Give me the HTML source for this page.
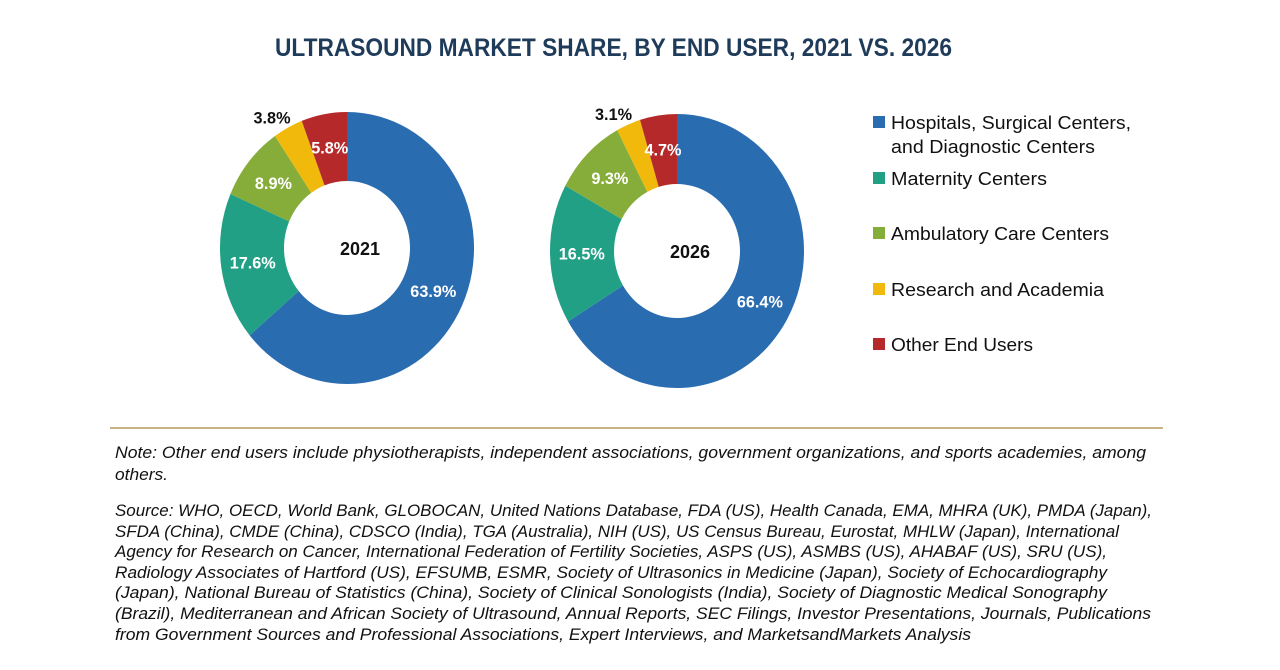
<!DOCTYPE html>
<html><head><meta charset="utf-8"><style>
body{margin:0;background:#fff;width:1280px;height:670px;overflow:hidden;font-family:"Liberation Sans",sans-serif;}
svg{position:absolute;left:0;top:0}
</style></head><body>
<svg id="chart" width="1280" height="670">
<text x="275" y="56" textLength="677" lengthAdjust="spacingAndGlyphs" font-size="25" font-weight="bold" fill="#1f3b5a">ULTRASOUND MARKET SHARE, BY END USER, 2021 VS. 2026</text>
<g font-style="italic" font-size="16.5" fill="#111">
<text x="115" y="458" textLength="1031" lengthAdjust="spacingAndGlyphs">Note: Other end users include physiotherapists, independent associations, government organizations, and sports academies, among</text>
<text x="115" y="480" textLength="53" lengthAdjust="spacingAndGlyphs">others.</text>
</g>
<g font-style="italic" font-size="16.5" fill="#111">
<text x="115" y="516" textLength="1037" lengthAdjust="spacingAndGlyphs">Source: WHO, OECD, World Bank, GLOBOCAN, United Nations Database, FDA (US), Health Canada, EMA, MHRA (UK), PMDA (Japan),</text>
<text x="115" y="537" textLength="1004" lengthAdjust="spacingAndGlyphs">SFDA (China), CMDE (China), CDSCO (India), TGA (Australia), NIH (US), US Census Bureau, Eurostat, MHLW (Japan), International</text>
<text x="115" y="557" textLength="992" lengthAdjust="spacingAndGlyphs">Agency for Research on Cancer, International Federation of Fertility Societies, ASPS (US), ASMBS (US), AHABAF (US), SRU (US),</text>
<text x="115" y="578" textLength="992" lengthAdjust="spacingAndGlyphs">Radiology Associates of Hartford (US), EFSUMB, ESMR, Society of Ultrasonics in Medicine (Japan), Society of Echocardiography</text>
<text x="115" y="598" textLength="992" lengthAdjust="spacingAndGlyphs">(Japan), National Bureau of Statistics (China), Society of Clinical Sonologists (India), Society of Diagnostic Medical Sonography</text>
<text x="115" y="619" textLength="1036" lengthAdjust="spacingAndGlyphs">(Brazil), Mediterranean and African Society of Ultrasound, Annual Reports, SEC Filings, Investor Presentations, Journals, Publications</text>
<text x="115" y="640" textLength="856" lengthAdjust="spacingAndGlyphs">from Government Sources and Professional Associations, Expert Interviews, and MarketsandMarkets Analysis</text>
</g>
</svg>
<script>
const categories=["Hospitals, Surgical Centers, and Diagnostic Centers","Maternity Centers","Ambulatory Care Centers","Research and Academia","Other End Users"];
const colors=["#2a6cb0","#22a085","#86ad3a","#f0b90c","#b5292a"];
const values2021=[63.9,17.6,8.9,3.8,5.8];
const values2026=[66.4,16.5,9.3,3.1,4.7];
const years=["2021","2026"];
const NS="http://www.w3.org/2000/svg";
const svg=document.getElementById('chart');
function el(t,a){const e=document.createElementNS(NS,t);for(const k in a)e.setAttribute(k,a[k]);svg.appendChild(e);return e;}
function pt(cx,cy,rx,ry,a){return [cx+rx*Math.sin(a),cy-ry*Math.cos(a)];}
function donut(vals,cx,cy,rx,ry,irx,iry,year){
  const tot=vals.reduce((s,v)=>s+v,0);let a0=0;
  vals.forEach((v,i)=>{
    const a1=a0+v/tot*2*Math.PI;const lg=(a1-a0)>Math.PI?1:0;
    const p1=pt(cx,cy,rx,ry,a0),p2=pt(cx,cy,rx,ry,a1),p3=pt(cx,cy,irx,iry,a1),p4=pt(cx,cy,irx,iry,a0);
    const p=el('path',{d:`M${p1}A${rx},${ry} 0 ${lg} 1 ${p2}L${p3}A${irx},${iry} 0 ${lg} 0 ${p4}Z`,fill:colors[i]});
    
    
    const m=(a0+a1)/2;const small=v/tot<0.045;
    const f=small?1.1:0.75;
    let lp=pt(cx,cy,rx*f,ry*f,m);
    if(small){lp=[lp[0]-10,lp[1]+2];}
    const t=el('text',{x:lp[0],y:lp[1]+6,'text-anchor':'middle','font-size':17,'font-weight':'bold',fill:small?'#111':'#fff',textLength:v>=10?46:37,lengthAdjust:'spacingAndGlyphs'});
    t.textContent=v.toFixed(1)+'%';
    
    
    a0=a1;
  });
  const c=el('text',{x:cx+13,y:cy+7,'text-anchor':'middle','font-size':18,'font-weight':'bold',fill:'#111',textLength:40,lengthAdjust:'spacingAndGlyphs'});
  c.textContent=year;
  
  
}
donut(values2021,347,248,127,136,63,67,years[0]);
donut(values2026,677,251,127,137,63,67,years[1]);
const ly=[122,178,233,289,344];
const legendLines=[["Hospitals, Surgical Centers,","and Diagnostic Centers"],["Maternity Centers"],["Ambulatory Care Centers"],["Research and Academia"],["Other End Users"]];
const legendWidths=[[240,204],[156],[218],[213],[142]];
categories.forEach((c,i)=>{
  const r=el('rect',{x:873,y:ly[i]-6,width:12,height:12,fill:colors[i]});
  
  
  legendLines[i].forEach((s,j)=>{
    const t=el('text',{x:891,y:ly[i]+7+j*24,'font-size':18,fill:'#111',textLength:legendWidths[i][j],lengthAdjust:'spacingAndGlyphs'});
    t.textContent=s;
    
    
  });
});
const ln=el('line',{x1:110,y1:428,x2:1163,y2:428,stroke:'#b59a5a','stroke-width':1.5});


</script>
</body></html>
